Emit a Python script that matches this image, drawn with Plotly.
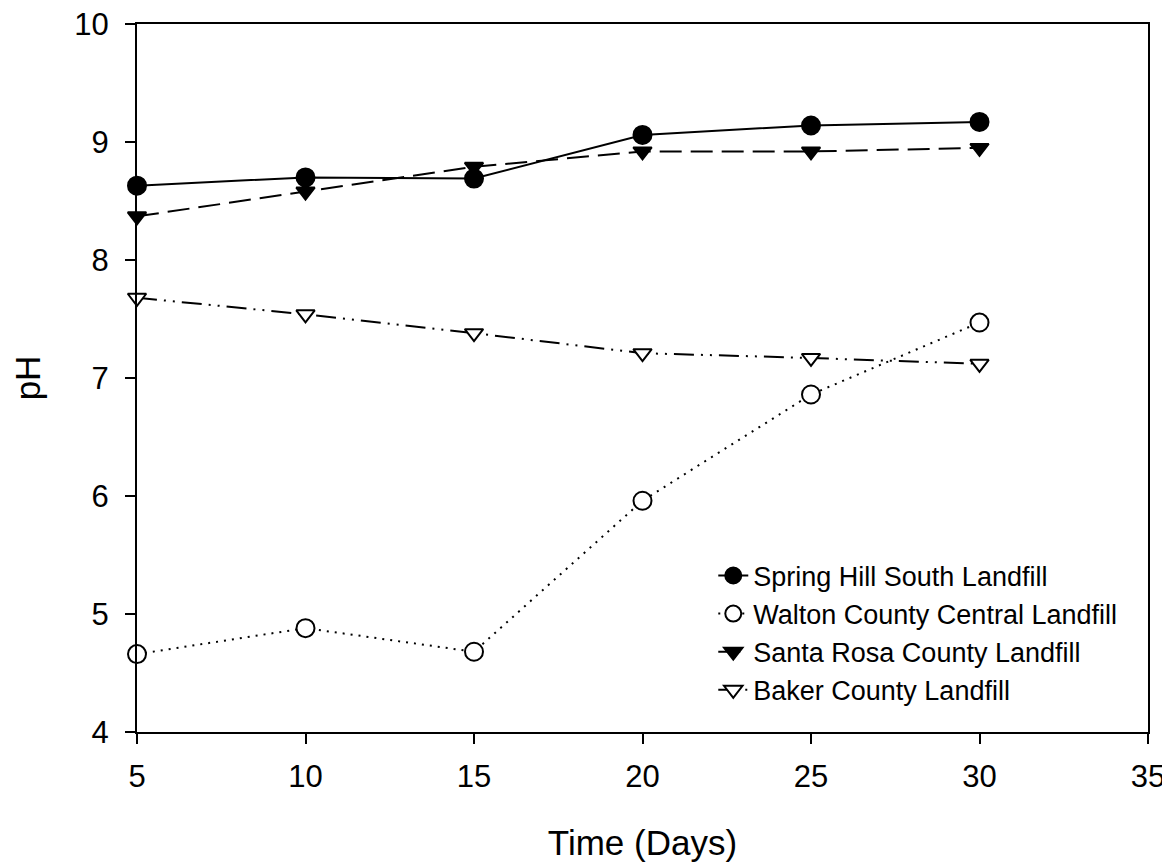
import plotly.graph_objects as go

days = [5, 10, 15, 20, 25, 30]
spring_hill = [8.63, 8.70, 8.69, 9.06, 9.14, 9.17]
walton = [4.66, 4.88, 4.68, 5.96, 6.86, 7.47]
santa_rosa = [8.37, 8.58, 8.79, 8.92, 8.92, 8.95]
baker = [7.68, 7.54, 7.38, 7.21, 7.17, 7.12]

x_ticks = [5, 10, 15, 20, 25, 30, 35]
y_ticks = [4, 5, 6, 7, 8, 9, 10]

FONT = "Liberation Sans, Arial, sans-serif"

fig = go.Figure()

series = [
    ("Spring Hill South Landfill", spring_hill, "solid", "circle", "black", 18),
    ("Walton County Central Landfill", walton, "2px,6px", "circle", "white", 18),
    ("Santa Rosa County Landfill", santa_rosa, "22px,9px", "triangle-down", "black", 16),
    ("Baker County Landfill", baker, "20px,7px,2px,7px,2px,7px", "triangle-down", "white", 16),
]

for name, vals, dash, sym, fill, size in series:
    fig.add_trace(go.Scatter(
        x=days, y=vals, name=name, mode="lines+markers",
        line=dict(color="black", width=2, dash=dash),
        marker=dict(symbol=sym, size=size, color=fill,
                    line=dict(color="black", width=2)),
        cliponaxis=False,
    ))

# page body has an 8px margin, so the figure is sized to fit inside the window
fig.update_layout(
    width=1162, height=854,
    paper_bgcolor="white", plot_bgcolor="white",
    margin=dict(l=129, r=22, t=16, b=130),
    font=dict(family=FONT, color="black"),
    showlegend=True,
    legend=dict(
        x=0.57, y=0.255, xanchor="left", yanchor="top",
        font=dict(size=27, family=FONT, color="black"),
        bgcolor="rgba(0,0,0,0)", borderwidth=0,
        itemsizing="trace",
    ),
)

fig.update_xaxes(
    range=[5, 35], tickvals=x_ticks, ticktext=[str(v) for v in x_ticks],
    showgrid=False, zeroline=False,
    showline=True, linecolor="black", linewidth=2, mirror=True,
    ticks="outside", ticklen=10, tickwidth=2, tickcolor="black",
    tickfont=dict(size=31, family=FONT, color="black"),
    ticklabelstandoff=6, ticklabeloverflow="allow",
    title=dict(text="Time (Days)", font=dict(size=35, family=FONT, color="black"), standoff=42),
    automargin=False,
)
fig.update_yaxes(
    range=[4, 10], tickvals=y_ticks, ticktext=[str(v) for v in y_ticks],
    showgrid=False, zeroline=False,
    showline=True, linecolor="black", linewidth=2, mirror=True,
    ticks="outside", ticklen=10, tickwidth=2, tickcolor="black",
    tickfont=dict(size=31, family=FONT, color="black"),
    ticklabelstandoff=10, ticklabeloverflow="allow",
    title=dict(text="pH", font=dict(size=35, family=FONT, color="black"), standoff=35),
    automargin=False,
)

fig.write_html("out.html")
